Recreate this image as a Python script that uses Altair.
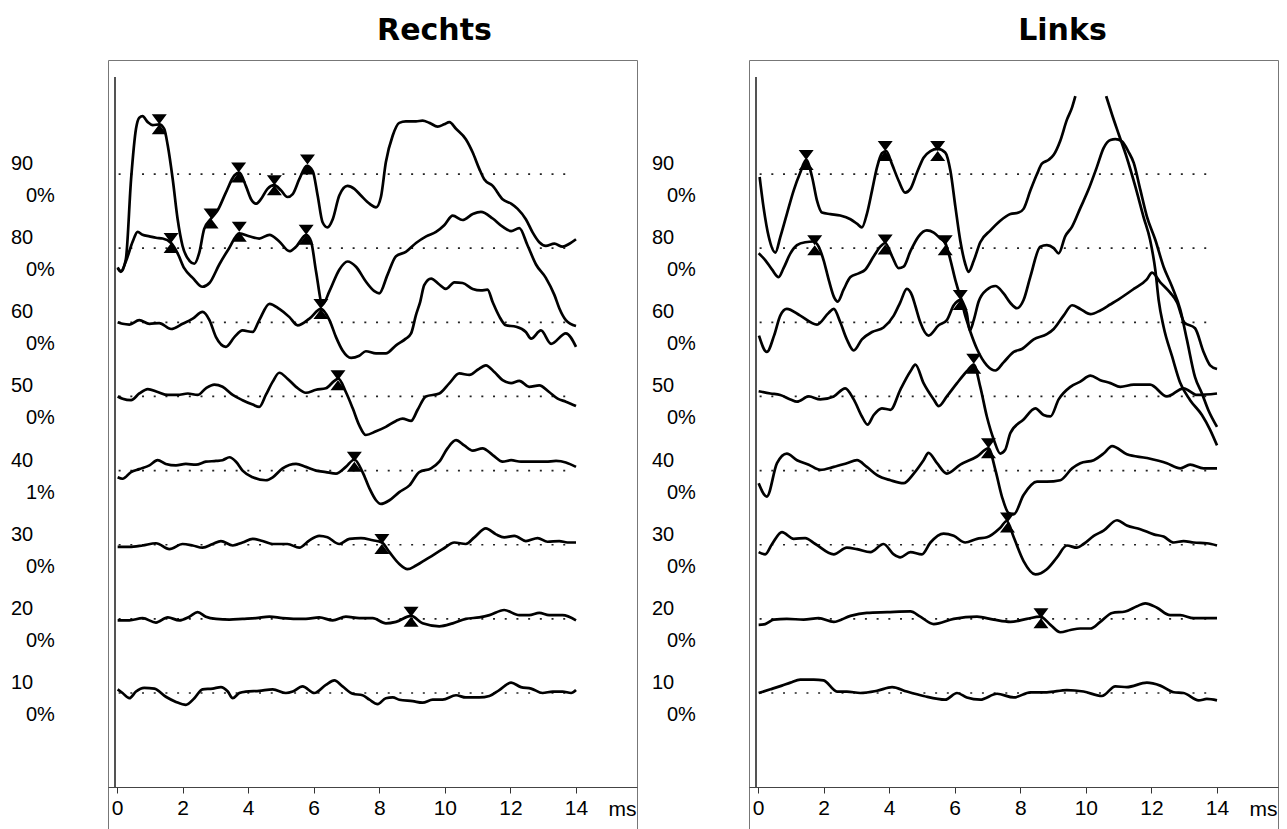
import altair as alt
import pandas as pd

# ---------------- data ----------------
LEVELS = [90, 80, 60, 50, 40, 30, 20, 10]           # stimulus levels, top to bottom
RANK = {90: 7, 80: 6, 60: 5, 50: 4, 40: 3, 30: 2, 20: 1, 10: 0}
PCT_RECHTS = ["0%", "0%", "0%", "0%", "1%", "0%", "0%", "0%"]
PCT_LINKS = ["0%", "0%", "0%", "0%", "0%", "0%", "0%", "0%"]
TICKS = [0, 2, 4, 6, 8, 10, 12, 14]
BASE_START, BASE_END = 0.05, 13.8                      # extent of dotted baselines (ms)

# (time ms, amplitude; 10 units = one trace spacing)
R90 = [(0.02,-12.6),(0.12,-13.2),(0.27,-11.5),(0.43,-0.7),(0.58,6.1),(0.68,7.6),(0.78,7.8),(0.94,7.0),
       (1.09,6.6),(1.29,6.7),(1.44,6.1),(1.55,3.8),(1.70,-0.7),(1.85,-6.1),(2.00,-9.7),(2.21,-11.7),
       (2.36,-12.1),(2.51,-10.6),(2.66,-7.4),(2.87,-6.0),(3.07,-4.9),(3.32,-2.5),(3.58,-0.2),(3.73,0.2),
       (3.93,-1.6),(4.09,-3.4),(4.24,-4.0),(4.39,-3.4),(4.59,-2.0),(4.80,-1.5),(5.00,-2.2),(5.20,-3.1),
       (5.36,-2.7),(5.56,-0.7),(5.79,1.1),(5.97,0.4),(6.12,-2.9),(6.27,-6.5),(6.42,-7.2),(6.58,-6.1),
       (6.78,-2.9),(7.03,-1.6),(7.24,-2.0),(7.44,-2.9),(7.70,-4.0),(7.90,-4.5),(8.05,-3.1),(8.20,1.6),
       (8.41,5.2),(8.61,6.9),(8.81,7.1),(9.12,7.1),(9.32,7.2),(9.53,6.9),(9.78,6.4),(9.98,6.7),
       (10.14,7.0),(10.34,6.1),(10.64,4.7),(10.85,2.9),(11.05,0.7),(11.20,-0.7),(11.46,-1.6),(11.76,-3.4),
       (12.02,-4.0),(12.22,-4.7),(12.47,-6.1),(12.68,-7.9),(12.88,-9.2),(13.08,-9.7),(13.34,-9.4),
       (13.59,-9.8),(13.80,-9.4),(14.00,-8.8)]
R80 = [(0.02,-2.7),(0.12,-3.1),(0.27,-1.8),(0.48,0.9),(0.63,2.2),(0.78,1.8),(0.99,1.6),(1.19,1.4),
       (1.39,1.3),(1.65,0.7),(1.85,-0.7),(2.05,-2.7),(2.31,-4.0),(2.61,-5.2),(2.82,-4.7),(3.12,-2.2),
       (3.42,0.0),(3.73,2.0),(4.03,1.6),(4.34,1.3),(4.65,1.8),(4.95,0.9),(5.26,-0.4),(5.46,0.2),
       (5.77,1.8),(5.92,0.9),(6.07,-3.1),(6.27,-7.6),(6.48,-5.8),(6.78,-2.9),(7.03,-1.8),(7.29,-2.5),
       (7.59,-4.5),(7.85,-5.8),(8.00,-6.1),(8.25,-3.6),(8.51,-1.1),(8.81,-0.5),(9.12,0.7),(9.43,1.6),
       (9.73,2.2),(9.98,3.1),(10.24,4.4),(10.54,3.8),(10.85,4.6),(11.10,4.9),(11.46,4.0),(11.76,2.9),
       (12.02,2.3),(12.27,2.7),(12.52,0.4),(12.78,-2.2),(13.08,-4.0),(13.34,-6.3),(13.49,-8.1),
       (13.69,-9.7),(14.00,-10.5)]
R60 = [(0.02,0.0),(0.17,-0.2),(0.38,-0.3),(0.68,0.3),(0.99,-0.2),(1.29,-0.1),(1.65,-0.9),(2.00,-0.2),
       (2.31,0.5),(2.61,1.4),(2.82,0.3),(3.02,-2.0),(3.32,-3.3),(3.58,-2.0),(3.83,-1.1),(4.14,-1.3),
       (4.34,0.3),(4.65,2.5),(4.95,1.8),(5.26,0.7),(5.51,-0.4),(5.87,0.5),(6.22,1.8),(6.48,0.3),
       (6.68,-2.0),(6.88,-3.8),(7.14,-4.8),(7.39,-4.5),(7.59,-3.9),(7.90,-4.2),(8.20,-4.2),(8.51,-3.1),
       (8.81,-2.2),(8.97,-1.5),(9.12,1.0),(9.25,2.8),(9.37,5.0),(9.58,5.9),(9.83,5.1),(10.03,4.5),
       (10.29,5.4),(10.54,5.3),(10.85,4.5),(11.10,4.3),(11.30,4.4),(11.46,2.7),(11.66,0.8),(11.86,-0.4),
       (12.17,-0.6),(12.47,-1.3),(12.63,-2.2),(12.93,-1.1),(13.24,-2.9),(13.69,-1.5),(14.00,-3.3)]
R50 = [(0.02,0.0),(0.17,-0.3),(0.43,-0.5),(0.68,0.4),(0.94,1.0),(1.24,0.6),(1.55,0.2),(1.85,0.2),
       (2.16,0.4),(2.46,0.2),(2.71,1.1),(2.97,1.6),(3.22,1.3),(3.53,0.2),(3.83,-0.5),(4.14,-1.1),
       (4.34,-1.4),(4.54,0.2),(4.75,2.0),(4.95,3.2),(5.20,2.4),(5.46,1.3),(5.76,0.5),(6.07,0.9),
       (6.37,1.1),(6.63,2.1),(6.75,2.4),(6.98,0.6),(7.19,-1.6),(7.39,-3.9),(7.59,-5.2),(7.90,-4.7),
       (8.20,-4.1),(8.51,-3.3),(8.71,-3.0),(8.97,-3.3),(9.17,-1.8),(9.42,0.0),(9.83,0.4),(10.14,1.8),
       (10.44,3.1),(10.75,2.9),(11.00,3.6),(11.25,4.2),(11.51,3.3),(11.76,2.2),(12.02,1.8),(12.27,2.1),
       (12.57,1.3),(12.88,1.5),(13.18,0.6),(13.44,-0.3),(13.69,-0.7),(14.00,-1.3)]
R40 = [(0.02,-0.9),(0.17,-1.1),(0.43,-0.2),(0.68,0.2),(0.99,0.7),(1.24,1.4),(1.49,0.9),(1.80,0.7),
       (2.10,0.9),(2.41,0.8),(2.71,1.2),(3.02,1.3),(3.22,1.4),(3.43,1.8),(3.63,1.2),(3.83,0.0),
       (4.14,-0.9),(4.54,-1.3),(4.75,-0.9),(5.05,0.3),(5.46,0.9),(5.76,0.5),(6.07,0.0),(6.37,-0.2),
       (6.68,-0.4),(6.98,0.5),(7.24,1.5),(7.49,-0.2),(7.70,-2.4),(7.90,-4.0),(8.05,-4.5),(8.31,-4.0),
       (8.61,-2.9),(8.92,-2.0),(9.22,-0.2),(9.58,0.3),(9.83,1.2),(10.08,3.0),(10.34,4.1),(10.59,3.4),
       (10.85,2.7),(11.15,3.0),(11.46,2.1),(11.76,1.2),(12.02,1.4),(12.32,1.2),(12.68,1.2),(13.08,1.2),
       (13.39,1.3),(13.69,1.1),(14.00,0.5)]
R30 = [(0.02,-0.3),(0.38,-0.3),(0.78,-0.1),(1.19,0.2),(1.60,-0.6),(2.00,0.1),(2.31,-0.1),(2.61,-0.4),
       (2.92,0.1),(3.17,0.5),(3.53,-0.1),(3.83,0.3),(4.14,0.8),(4.44,0.5),(4.75,0.1),(5.20,0.1),
       (5.56,-0.4),(5.87,0.6),(6.17,1.2),(6.42,1.0),(6.78,0.1),(7.09,0.8),(7.44,0.9),(7.80,0.6),
       (8.08,0.3),(8.31,-1.0),(8.61,-2.6),(8.86,-3.3),(9.12,-2.8),(9.53,-1.7),(9.93,-0.6),(10.29,0.3),
       (10.64,0.1),(10.90,1.0),(11.25,2.2),(11.56,1.4),(11.81,1.0),(12.12,1.2),(12.47,0.5),(12.83,0.9),
       (13.13,0.4),(13.49,0.5),(13.74,0.3),(14.00,0.3)]
R20 = [(0.02,-0.2),(0.38,-0.2),(0.78,0.1),(1.19,-0.5),(1.55,0.2),(1.90,-0.2),(2.21,0.3),(2.46,0.9),
       (2.71,0.3),(3.02,0.0),(3.43,-0.1),(3.83,0.0),(4.24,0.1),(4.65,0.3),(5.05,0.1),(5.46,0.0),
       (5.76,0.0),(6.17,0.2),(6.58,-0.2),(6.98,0.3),(7.39,0.1),(7.80,0.1),(8.20,-0.6),(8.51,-0.4),
       (8.97,0.4),(9.32,-0.6),(9.83,-1.0),(10.24,-0.6),(10.64,0.0),(11.05,0.2),(11.36,0.5),(11.81,1.2),
       (12.27,0.5),(12.57,0.5),(12.88,0.8),(13.18,0.5),(13.59,0.5),(14.00,-0.2)]
R10 = [(0.02,0.5),(0.17,0.0),(0.38,-0.7),(0.58,0.2),(0.83,0.7),(1.14,0.6),(1.49,-0.5),(1.80,-1.2),
       (2.10,-1.6),(2.36,-0.7),(2.61,0.5),(2.92,0.6),(3.17,0.8),(3.38,0.2),(3.53,-0.7),(3.73,0.0),
       (3.93,0.2),(4.34,0.3),(4.75,0.5),(5.15,0.0),(5.36,0.2),(5.66,0.9),(6.02,0.0),(6.37,1.1),
       (6.63,1.7),(6.88,0.9),(7.19,-0.1),(7.49,-0.3),(7.70,-0.9),(7.95,-1.5),(8.20,-0.7),(8.41,-0.6),
       (8.61,-0.9),(9.02,-1.1),(9.32,-1.3),(9.63,-0.9),(9.93,-0.9),(10.34,-0.3),(10.64,-0.6),
       (11.05,-0.6),(11.36,-0.4),(11.66,0.4),(12.02,1.4),(12.32,0.8),(12.63,0.6),(12.98,0.0),
       (13.29,0.2),(13.59,0.2),(13.85,0.0),(14.00,0.4)]

L90_A = [(0.05,-0.4),(0.17,-4.5),(0.33,-8.5),(0.53,-10.6),(0.68,-8.5),(0.88,-5.4),(1.09,-2.2),(1.29,0.2),
         (1.47,1.9),(1.65,-0.4),(1.80,-3.6),(1.95,-5.2),(2.21,-5.4),(2.51,-5.6),(2.82,-6.1),(3.02,-6.7),
         (3.17,-7.2),(3.32,-5.4),(3.48,-2.2),(3.63,0.9),(3.78,2.8),(3.91,3.1),(4.09,1.3),(4.29,-0.9),
         (4.49,-2.5),(4.65,-2.0),(4.85,0.2),(5.05,2.2),(5.26,3.1),(5.48,3.4),(5.71,2.9),(5.87,0.4),
         (6.02,-4.4),(6.17,-9.0),(6.32,-12.1),(6.42,-13.2),(6.58,-11.7),(6.78,-9.2),(7.09,-7.6),
         (7.39,-6.3),(7.70,-5.4),(7.95,-5.2),(8.10,-4.7),(8.31,-2.2),(8.51,0.0),(8.66,1.4),(8.86,1.9),
         (9.02,2.6),(9.22,4.5),(9.42,7.3),(9.58,9.0),(9.68,10.5)]
L90_B = [(10.62,10.5),(10.80,8.0),(11.00,5.4),(11.25,2.2),(11.51,-1.7),(11.76,-5.8),(11.96,-8.9),
         (12.12,-13.0),(12.22,-17.0),(12.37,-20.6),(12.63,-24.6),(12.88,-28.2),(13.18,-30.5),
         (13.54,-32.5),(13.79,-34.5),(14.00,-36.6)]
L80 = [(0.02,-0.7),(0.22,-1.6),(0.43,-2.9),(0.63,-3.9),(0.78,-2.7),(0.99,-0.7),(1.19,0.4),(1.44,0.8),
       (1.70,0.9),(1.85,0.2),(2.00,-1.6),(2.16,-4.3),(2.33,-6.7),(2.43,-7.2),(2.61,-5.6),(2.82,-3.9),
       (3.07,-3.4),(3.27,-2.9),(3.53,-1.1),(3.73,0.2),(3.88,0.7),(4.09,-1.1),(4.29,-2.7),(4.44,-2.5),
       (4.65,-0.4),(4.90,1.6),(5.15,2.4),(5.36,2.1),(5.56,1.3),(5.71,0.7),(5.87,-1.6),(6.02,-4.3),
       (6.17,-6.5),(6.37,-8.8),(6.46,-11.1),(6.58,-9.7),(6.73,-7.2),(6.98,-5.6),(7.24,-5.1),(7.49,-6.1),
       (7.70,-7.4),(7.90,-8.1),(8.10,-7.0),(8.31,-3.8),(8.61,0.2),(8.81,0.4),(9.02,0.0),(9.17,-0.7),
       (9.37,1.6),(9.58,2.9),(9.83,5.4),(10.08,7.9),(10.34,11.0),(10.54,13.5),(10.75,14.6),(10.90,14.7),
       (11.10,14.4),(11.30,13.0),(11.46,11.5),(11.66,7.9),(11.86,4.3),(12.12,1.1),(12.37,-2.5),
       (12.63,-5.2),(12.88,-8.3),(13.08,-12.3),(13.33,-17.4),(13.54,-19.6),(13.74,-21.9),(14.00,-24.1)]
L60 = [(0.03,-1.8),(0.27,-4.0),(0.49,-1.8),(0.68,0.9),(0.88,1.8),(1.29,0.9),(1.80,-0.3),(2.16,1.3),
       (2.31,1.8),(2.51,0.0),(2.71,-2.3),(2.92,-3.8),(3.17,-2.3),(3.48,-1.3),(3.83,-0.7),(4.14,0.9),
       (4.34,2.7),(4.54,4.5),(4.70,3.6),(4.80,2.2),(4.95,0.0),(5.20,-1.8),(5.51,-0.4),(5.76,0.3),
       (5.97,2.3),(6.17,3.0),(6.32,0.9),(6.48,-1.3),(6.68,-3.6),(6.98,-5.8),(7.24,-6.5),(7.49,-5.4),
       (7.80,-4.0),(8.05,-3.6),(8.41,-2.3),(8.81,-1.6),(9.02,-0.9),(9.32,0.9),(9.58,2.3),(9.83,1.8),
       (10.14,1.1),(10.44,1.6),(10.74,2.4),(11.00,3.1),(11.46,4.5),(11.86,5.8),(12.02,6.7),(12.27,5.4),
       (12.57,4.0),(12.78,2.7),(13.00,0.0),(13.33,-0.8),(13.59,-4.0),(13.79,-5.8),(14.00,-6.3)]
L50 = [(0.02,0.7),(0.38,0.4),(0.68,0.2),(0.99,-0.4),(1.19,-0.7),(1.55,0.0),(1.90,-0.4),(2.31,0.0),
       (2.66,1.1),(2.92,-0.4),(3.17,-2.7),(3.34,-3.8),(3.53,-2.5),(3.78,-1.6),(4.04,-1.8),(4.34,0.9),
       (4.65,3.4),(4.80,4.3),(5.05,1.8),(5.36,-0.4),(5.51,-1.3),(5.76,0.0),(6.07,1.8),(6.37,3.4),
       (6.58,4.3),(6.78,1.3),(6.98,-2.7),(7.19,-5.8),(7.39,-7.7),(7.54,-7.2),(7.70,-4.9),(8.10,-3.1),
       (8.46,-1.6),(8.71,-2.5),(8.92,-2.7),(9.17,-0.4),(9.53,1.3),(9.83,2.0),(10.14,2.8),(10.44,2.2),
       (10.75,1.8),(11.05,1.3),(11.46,1.6),(11.96,1.6),(12.47,0.0),(12.98,1.1),(13.39,0.2),(14.00,0.4)]
L40 = [(0.02,-1.7),(0.27,-3.5),(0.58,1.0),(0.88,2.3),(1.19,1.4),(1.55,0.8),(1.90,0.1),(2.31,0.5),
       (2.71,1.0),(3.02,1.4),(3.32,0.5),(3.63,-0.6),(4.04,-1.3),(4.44,-1.7),(4.75,-0.4),(5.05,1.4),
       (5.20,2.4),(5.46,1.0),(5.76,-0.4),(6.17,0.8),(6.68,1.9),(7.03,3.0),(7.24,0.1),(7.44,-3.5),
       (7.64,-5.7),(7.80,-5.9),(8.10,-3.3),(8.51,-1.5),(8.81,-1.5),(9.22,-1.3),(9.58,0.3),(9.83,1.0),
       (10.24,1.4),(10.54,2.3),(10.80,3.3),(11.25,2.2),(11.86,1.7),(12.47,1.0),(12.88,0.3),(13.18,0.8),
       (13.59,0.3),(14.00,0.3)]
L30 = [(0.02,-1.0),(0.22,-1.3),(0.43,0.1),(0.73,1.7),(1.09,0.8),(1.44,0.9),(1.75,0.1),(2.31,-1.3),
       (2.71,-0.4),(3.02,-0.6),(3.43,-1.0),(3.83,0.1),(4.14,-1.3),(4.34,-1.7),(4.65,-1.0),(5.00,-1.3),
       (5.26,0.3),(5.66,1.5),(5.97,1.2),(6.32,0.3),(6.68,0.8),(6.98,1.0),(7.39,2.3),(7.59,3.2),
       (7.80,1.0),(8.10,-2.2),(8.46,-4.0),(8.81,-3.3),(9.12,-1.7),(9.42,-0.1),(9.73,-0.4),(9.93,0.1),
       (10.24,1.2),(10.54,1.9),(10.95,3.3),(11.25,2.6),(11.66,2.1),(12.07,1.4),(12.37,1.1),(12.68,0.3),
       (12.98,0.5),(13.29,0.3),(13.69,0.2),(14.00,-0.1)]
L20 = [(0.02,-0.8),(0.22,-0.7),(0.48,-0.1),(0.88,0.0),(1.39,-0.1),(1.85,0.1),(2.31,-0.4),(2.82,0.4),
       (3.32,0.8),(3.94,0.9),(4.65,1.0),(4.95,0.3),(5.36,-0.7),(5.97,0.0),(6.68,0.3),(7.19,-0.1),
       (7.70,-0.4),(8.20,0.0),(8.61,0.3),(8.92,-0.8),(9.22,-1.8),(9.53,-1.5),(9.83,-1.3),(10.14,-1.3),
       (10.44,-0.4),(10.80,0.8),(11.20,1.0),(11.56,1.7),(11.81,2.1),(12.17,1.5),(12.57,0.5),(12.88,0.5),
       (13.29,0.1),(14.00,0.1)]
L10 = [(0.02,0.0),(0.38,0.5),(0.73,1.0),(0.99,1.4),(1.29,1.8),(1.70,1.8),(2.00,1.7),(2.41,0.2),
       (2.71,0.2),(3.12,0.0),(3.63,0.3),(4.09,0.8),(4.54,0.2),(5.05,-0.4),(5.71,-0.9),(6.07,0.0),
       (6.37,-0.6),(6.78,-0.9),(7.29,-0.1),(7.80,-0.6),(8.31,0.1),(8.81,0.1),(9.42,0.4),(9.93,0.2),
       (10.49,-0.4),(10.90,0.9),(11.25,0.8),(11.86,1.4),(12.27,1.0),(12.68,0.1),(12.98,0.0),
       (13.44,-1.0),(13.69,-0.8),(14.00,-1.0)]

# peak markers: (level, time ms, amplitude)
R_MARKS = [(90,1.29,6.7),(90,2.87,-6.0),(90,3.71,0.2),(90,4.80,-1.5),(90,5.81,1.3),
           (80,1.65,0.7),(80,3.73,2.2),(80,5.77,1.8),(60,6.22,1.8),(50,6.74,2.2),
           (40,7.24,1.2),(30,8.08,0.1),(20,8.97,0.3)]
L_MARKS = [(90,1.47,1.9),(90,3.88,3.1),(90,5.48,3.1),(80,1.73,0.4),(80,3.88,0.5),(80,5.71,0.4),
           (60,6.17,3.0),(50,6.58,4.4),(40,7.03,3.0),(30,7.61,3.0),(20,8.63,0.1)]

R_TRACES = [(90, "a", R90), (80, "a", R80), (60, "a", R60), (50, "a", R50),
            (40, "a", R40), (30, "a", R30), (20, "a", R20), (10, "a", R10)]
L_TRACES = [(90, "a", L90_A), (90, "b", L90_B), (80, "a", L80), (60, "a", L60), (50, "a", L50),
            (40, "a", L40), (30, "a", L30), (20, "a", L20), (10, "a", L10)]

# ---------------- chart ----------------
FONT = "Liberation Sans"
W, H = 529, 769
HOURGLASS = "M-0.75,-1L0.75,-1L-0.75,1L0.75,1Z"

xscale = alt.Scale(domain=[-0.274, 15.86], nice=False, zero=False)
yscale = alt.Scale(domain=[-18.34, 85.38], nice=False, zero=False)
xaxis = alt.Axis(values=TICKS, format="d", grid=False, offset=-42, tickSize=6,
                 tickColor="#333", domainColor="#444", labelFont=FONT, labelFontSize=21,
                 labelColor="black", labelPadding=4, title="ms", titleFont=FONT,
                 titleFontSize=21, titleFontWeight="normal", titleColor="black",
                 titleX=514, titleY=22, titleBaseline="middle", titleAlign="center")
X = alt.X("t:Q", scale=xscale, axis=xaxis)
Y = alt.Y("y:Q", scale=yscale, axis=None)


def panel(name, traces, marks, pcts, title_dx):
    rows = []
    for lvl, seg, pts in traces:
        for t, a in pts:
            rows.append({"t": t, "y": RANK[lvl] * 10 + a, "seg": f"{lvl}{seg}"})
    df = pd.DataFrame(rows)
    bdf = pd.DataFrame({"t": [BASE_START] * len(LEVELS), "t2": [BASE_END] * len(LEVELS),
                        "y": [RANK[l] * 10 for l in LEVELS],
                        "lvl": [str(l) for l in LEVELS], "pct": pcts})
    mdf = pd.DataFrame({"t": [m[1] for m in marks],
                        "y": [RANK[m[0]] * 10 + m[2] for m in marks]})

    base = alt.Chart(bdf).mark_rule(strokeDash=[2, 9.7], strokeWidth=1.7, color="#222").encode(
        x=X, x2="t2:Q", y=Y)
    lines = alt.Chart(df).mark_line(color="black", strokeWidth=2.7, interpolate="monotone").encode(
        x=X, y=Y, detail="seg:N")
    pts = alt.Chart(mdf).mark_point(shape=HOURGLASS, filled=True, size=400, color="black",
                                    opacity=1).encode(x=X, y=Y)
    lab1 = alt.Chart(bdf).mark_text(align="left", baseline="middle", dy=-10, font=FONT,
                                    fontSize=20, color="black").encode(
        x=alt.value(-97), y=Y, text="lvl:N")
    lab2 = alt.Chart(bdf).mark_text(align="left", baseline="middle", dy=22, font=FONT,
                                    fontSize=20, color="black").encode(
        x=alt.value(-82), y=Y, text="pct:N")
    inner = alt.Chart(bdf).mark_rule(color="#555", strokeWidth=1).encode(
        x=alt.value(7), y=alt.value(17), y2=alt.value(727))
    return alt.layer(base, lines, pts, lab1, lab2, inner).properties(
        width=W, height=H,
        title=alt.TitleParams(name, font="DejaVu Sans", fontSize=30, fontWeight="bold",
                              color="black", anchor="middle", frame="group", dx=title_dx,
                              baseline="top", offset=14))


left = panel("Rechts", R_TRACES, R_MARKS, PCT_RECHTS, 62)
right = panel("Links", L_TRACES, L_MARKS, PCT_LINKS, 49)

chart = alt.hconcat(left, right, spacing=112, bounds="flush").properties(
    padding={"left": 10, "top": 15, "right": 0, "bottom": 0},
    background="white",
).configure_view(stroke="#777", strokeWidth=1)

chart.save("out.html", embed_options={"renderer": "svg", "actions": False})
